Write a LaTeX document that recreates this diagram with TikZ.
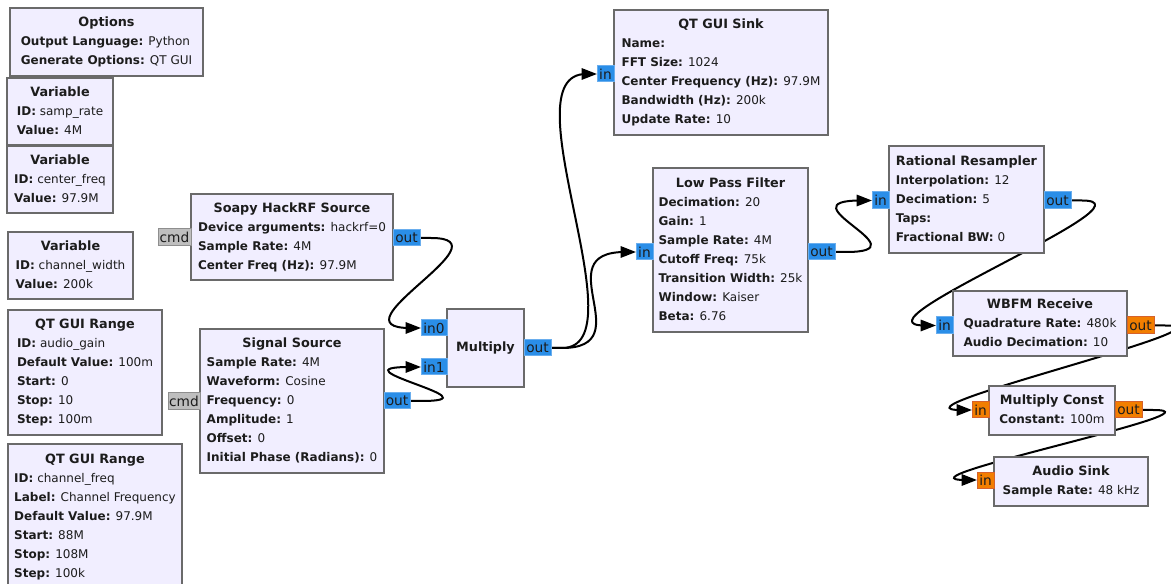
\documentclass[tikz,border=0pt]{standalone}
\usepackage{fontspec}
\setmainfont{DejaVu Sans}
\usetikzlibrary{arrows.meta,calc}

\definecolor{blkfill}{HTML}{F1EEFF}
\definecolor{blkline}{HTML}{6A6A6A}
\definecolor{txt}{HTML}{1C1C1C}
\definecolor{cplxfill}{HTML}{2A8EE8}
\definecolor{cplxline}{HTML}{6AAEEE}
\definecolor{fltfill}{HTML}{F27E00}
\definecolor{fltline}{HTML}{D6622C}
\definecolor{msgfill}{HTML}{BEBEBE}
\definecolor{msgline}{HTML}{8E8E8E}

\pgfdeclarelayer{canvas}
\pgfdeclarelayer{wires}
\pgfsetlayers{canvas,wires,main}

\tikzset{
  blk/.style={draw=blkline, fill=blkfill, line width=1.5pt, rectangle,
    inner sep=0pt, outer sep=0pt, text=txt,
    font=\fontsize{9}{14.25}\selectfont},
  portbase/.style={draw, line width=0.75pt, rectangle, inner sep=0pt,
    outer sep=0pt, text=txt, font=\fontsize{10.3}{10}\selectfont},
  cplx/.style={portbase, fill=cplxfill, draw=cplxline},
  flt/.style={portbase, fill=fltfill, draw=fltline},
  msg/.style={portbase, fill=msgfill, draw=msgline},
  wire/.style={line width=1.5pt, black, -{Triangle[length=11.5pt,width=8.5pt]}},
}

% block: name, x1, y1, x2, y2, contents
\newcommand\grblock[6]{%
  \node[blk, minimum width={(#4-#2)*0.75pt}, minimum height={(#5-#3)*0.75pt}]
    (#1) at ({(#2+#4)/2},{(#3+#5)/2}) {#6};}
% port: style, name, x1, y1, x2, y2, label
\newcommand\grport[7]{%
  \node[#1, minimum width={(#5-#3)*0.75pt}, minimum height={(#6-#4)*0.75pt}]
    (#2) at ({(#3+#5)/2},{(#4+#6)/2}) {#7};}
% title and parameter lines
\newcommand\grtitle[1]{{\fontsize{9.6}{14.25}\selectfont\bfseries #1}}
\newcommand\grtext[2]{\begin{tabular}{@{}l@{}}\multicolumn{1}{@{}c@{}}{\grtitle{#1}}\\#2\end{tabular}}
\newcommand\lb[1]{{\bfseries #1}}
% connection from a source port to a sink port
\newcommand\grwire[2]{%
  \draw[wire] (#1.east) -- ++(11,0) .. controls +(80,0) and ($(#2.west)+(-91,0)$)
    .. ($(#2.west)+(-11,0)$) -- (#2.west);}

\begin{document}
\begin{tikzpicture}[x=0.75pt, y=-0.75pt]
\useasboundingbox (0,0) rectangle (1171,584);
\begin{pgfonlayer}{canvas}
  \fill[white] (0,0) rectangle (1171,584);
\end{pgfonlayer}

% variables and options
\grblock{opts}{10}{8}{203}{76}{\grtext{Options}{\lb{Output Language:} Python\\\lb{Generate Options:} QT GUI}}
\grblock{varrate}{7}{78}{113}{145}{\grtext{Variable}{\lb{ID:} samp\_rate\\\lb{Value:} 4M}}
\grblock{varfreq}{7}{146}{113}{213}{\grtext{Variable}{\lb{ID:} center\_freq\\\lb{Value:} 97.9M}}
\grblock{varwidth}{8}{232}{133}{299}{\grtext{Variable}{\lb{ID:} channel\_width\\\lb{Value:} 200k}}
\grblock{rangegain}{8}{310}{162}{435}{\grtext{QT GUI Range}{\lb{ID:} audio\_gain\\\lb{Default Value:} 100m\\\lb{Start:} 0\\\lb{Stop:} 10\\\lb{Step:} 100m}}
\grblock{rangefreq}{8}{444}{182}{590}{\grtext{QT GUI Range}{\lb{ID:} channel\_freq\\\lb{Label:} Channel Frequency\\\lb{Default Value:} 97.9M\\\lb{Start:} 88M\\\lb{Stop:} 108M\\\lb{Step:} 100k}}

% sources
\grblock{soapy}{191}{194}{393}{280}{\grtext{Soapy HackRF Source}{\lb{Device arguments:} hackrf=0\\\lb{Sample Rate:} 4M\\\lb{Center Freq (Hz):} 97.9M}}
\grport{msg}{soapycmd}{158}{229}{191}{246}{cmd}
\grport{cplx}{soapyout}{393}{230}{420}{246}{out}

\grblock{sig}{200}{329}{384}{473}{\grtext{Signal Source}{\lb{Sample Rate:} 4M\\\lb{Waveform:} Cosine\\\lb{Frequency:} 0\\\lb{Amplitude:} 1\\\lb{Offset:} 0\\\lb{Initial Phase (Radians):} 0}}
\grport{msg}{sigcmd}{168}{393}{200}{410}{cmd}
\grport{cplx}{sigout}{384}{393}{410}{409}{out}

% mixer
\grblock{mult}{447}{309}{524}{387}{\grtitle{Multiply}}
\grport{cplx}{multin0}{421}{320}{447}{336}{in0}
\grport{cplx}{multin1}{421}{359}{447}{375}{in1}
\grport{cplx}{multout}{524}{340}{551}{356}{out}

% spectrum display
\grblock{qsink}{614}{10}{828}{135}{\grtext{QT GUI Sink}{\lb{Name:}\\\lb{FFT Size:} 1024\\\lb{Center Frequency (Hz):} 97.9M\\\lb{Bandwidth (Hz):} 200k\\\lb{Update Rate:} 10}}
\grport{cplx}{qsinkin}{597}{66}{614}{82}{in}

% channel filter and resampler
\grblock{lpf}{653}{168}{808}{332}{\grtext{Low Pass Filter}{\lb{Decimation:} 20\\\lb{Gain:} 1\\\lb{Sample Rate:} 4M\\\lb{Cutoff Freq:} 75k\\\lb{Transition Width:} 25k\\\lb{Window:} Kaiser\\\lb{Beta:} 6.76}}
\grport{cplx}{lpfin}{636}{244}{653}{260}{in}
\grport{cplx}{lpfout}{808}{244}{835}{260}{out}

\grblock{rr}{889}{146}{1044}{253}{\grtext{Rational Resampler}{\lb{Interpolation:} 12\\\lb{Decimation:} 5\\\lb{Taps:}\\\lb{Fractional BW:} 0}}
\grport{cplx}{rrin}{872}{192}{889}{209}{in}
\grport{cplx}{rrout}{1044}{192}{1071}{209}{out}

% demodulation and audio
\grblock{wbfm}{953}{291}{1127}{356}{\grtext{WBFM Receive}{\lb{Quadrature Rate:} 480k\\\lb{Audio Decimation:} 10}}
\grport{cplx}{wbfmin}{936}{317}{953}{334}{in}
\grport{flt}{wbfmout}{1127}{317}{1154}{334}{out}

\grblock{mc}{989}{386}{1115}{435}{\grtext{Multiply Const}{\lb{Constant:} 100m}}
\grport{flt}{mcin}{972}{402}{989}{418}{in}
\grport{flt}{mcout}{1115}{402}{1142}{418}{out}

\grblock{asink}{994}{457}{1148}{506}{\grtext{Audio Sink}{\lb{Sample Rate:} 48 kHz}}
\grport{flt}{asinkin}{977}{472}{994}{488}{in}

% connections, behind the blocks
\begin{pgfonlayer}{wires}
  \grwire{soapyout}{multin0}
  \grwire{sigout}{multin1}
  \grwire{multout}{qsinkin}
  \grwire{multout}{lpfin}
  \grwire{lpfout}{rrin}
  \grwire{rrout}{wbfmin}
  \grwire{wbfmout}{mcin}
  \grwire{mcout}{asinkin}
\end{pgfonlayer}
\end{tikzpicture}
\end{document}
